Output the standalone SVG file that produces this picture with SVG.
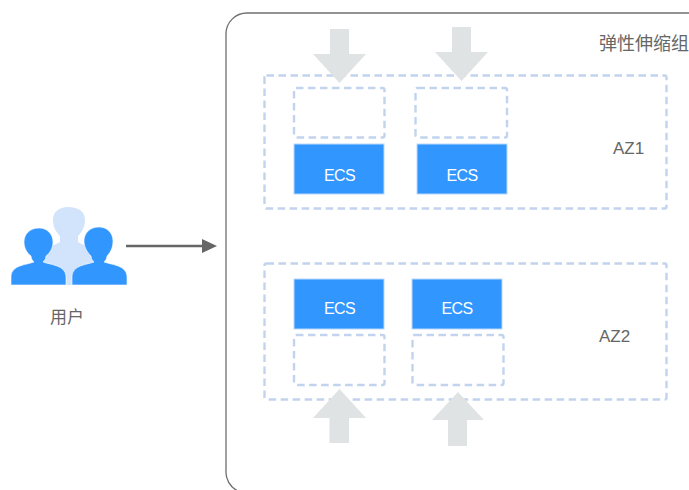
<svg xmlns="http://www.w3.org/2000/svg" width="689" height="490" viewBox="0 0 689 490">
<style>
.d{fill:none;stroke:#c2d3ee;stroke-width:2.400;stroke-dasharray:7.500 4.500}
.e{fill:#3296ff;stroke:#b9d8fb;stroke-width:1}
.a{fill:#e0e3e3}
text{font-family:"Liberation Sans","Noto Sans CJK SC",sans-serif}
.w{fill:#fff;font-size:16px;text-anchor:middle;letter-spacing:-.7px}
.g{fill:#666;font-size:17px}
.c{font-family:"Noto Sans CJK SC",sans-serif;fill:#666}
.u{fill:#3296ff}
</style>
<rect width="689" height="490" fill="#fff"/>
<g id="group"><path d="M708 13H247a21 21 0 0 0-21 21V470a21 21 0 0 0 12 21" fill="none" stroke="#6f6f6f" stroke-width="1.300"/>
<text x="599" y="50" class="c" font-size="18">弹性伸缩组</text></g>
<g id="az1"><rect x="264.500" y="75.500" width="402" height="133" rx="2" class="d"/><text x="613" y="154" class="g">AZ1</text></g>
<g id="az2"><rect x="264.500" y="263.500" width="402" height="136" rx="2" class="d"/><text x="599" y="342" class="g">AZ2</text></g>
<g id="slot1"><rect x="294" y="88" width="90.500" height="49.500" rx="2" class="d"/></g>
<g id="slot2"><rect x="415.500" y="88" width="91.500" height="49.500" rx="2" class="d"/></g>
<g id="slot3"><rect x="294" y="335" width="90.500" height="50" rx="2" class="d"/></g>
<g id="slot4"><rect x="412.500" y="335" width="91" height="50" rx="2" class="d"/></g>
<g id="ecs1"><rect x="294" y="144" width="90" height="50" class="e"/><text x="339.500" y="181" class="w">ECS</text></g>
<g id="ecs2"><rect x="417" y="144" width="90" height="50" class="e"/><text x="462" y="181" class="w">ECS</text></g>
<g id="ecs3"><rect x="294" y="279" width="90" height="50" class="e"/><text x="339.500" y="314" class="w">ECS</text></g>
<g id="ecs4"><rect x="412" y="279" width="90" height="50" class="e"/><text x="457" y="314" class="w">ECS</text></g>
<g id="user">
<path d="M68 207c-9 0-15 5-15 13 0 7 3 12 7 16v6c-4 3-14 4-18 10l-4 33h62l-4-33c-5-6-14-7-18-10v-6c4-4 7-9 7-16 0-8-6-13-17-13z" fill="#d2e4fb"/>
<path class="u" d="M39 228c-9 0-15 6-15 14 0 6 3 11 7 14 0 3 2 5 3 6-8 3-22 3-23 14v9h55v-9c-1-11-15-11-23-14 1-1 3-3 3-6 4-3 7-8 7-14 0-8-6-14-14-14z" stroke="#fff" stroke-width=".6"/>
<path class="u" d="M99 227c-9 0-15 6-15 14 0 6 3 11 7 15 0 3 2 5 3 6-8 3-21 3-22 14v9h55v-9c-1-11-15-11-23-14 1-1 3-3 3-6 4-4 6-9 6-15 0-8-6-14-14-14z" stroke="#fff" stroke-width=".6"/>
<text x="50" y="323" class="c" font-size="17">用户</text></g>
<g id="connectors">
<path d="M126 246H204" stroke="#666" stroke-width="2.400" fill="none"/><path d="M202 239L217 246L202 253Z" fill="#666"/>
<path class="a" d="M330 29H349V54H366L339.500 83L313 54H330Z"/>
<path class="a" d="M452 27H471V52H488L461.500 81L435 52H452Z"/>
<path class="a" d="M329.500 443V418H313L339.500 389L366 418H349V443Z"/>
<path class="a" d="M448 446V420H432L458 392L484 420H467V446Z"/>
</g>
</svg>
